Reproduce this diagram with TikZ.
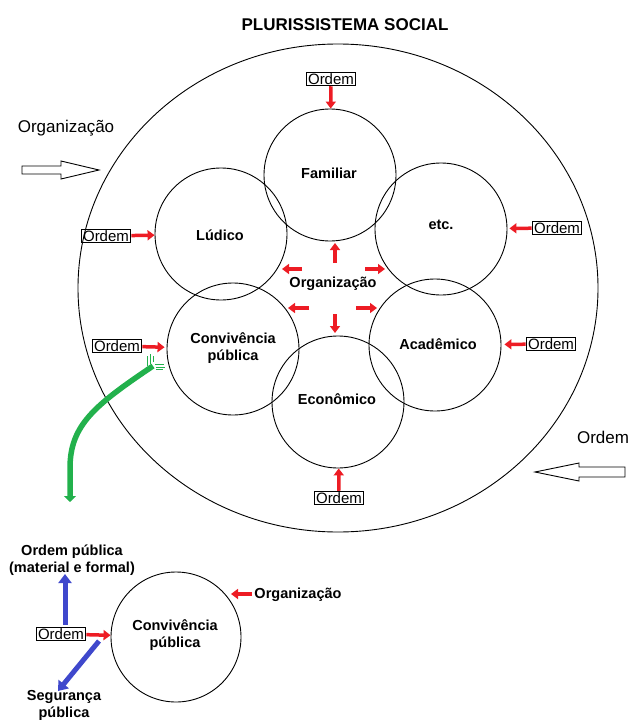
\documentclass[tikz,border=0pt]{standalone}
\usepackage{fontspec}
\setmainfont{Liberation Sans}
\usetikzlibrary{arrows.meta,shapes.geometric}
\definecolor{redc}{RGB}{237,28,36}
\definecolor{bluec}{RGB}{63,72,204}
\definecolor{greenc}{RGB}{34,177,76}
\begin{document}
\begin{tikzpicture}[x=1pt,y=-1pt,
  circ/.style={circle,draw,line width=0.9pt,minimum size=132pt,inner sep=0pt},
  lbl/.style={font=\fontsize{14.5}{17}\selectfont\bfseries,align=center,inner sep=0pt},
  ordbox/.style={draw,line width=0.9pt,inner xsep=2pt,inner ysep=1.2pt,
    font=\fontsize{15}{15}\selectfont,text height=10.8pt,text depth=0.4pt},
  redarr/.style={draw=redc,line width=3.5pt,-{Triangle[length=7pt,width=10pt]}},
  bluearr/.style={draw=bluec,line width=5pt,-{Triangle[length=9pt,width=13pt]}},
  hollow/.style={draw,line width=0.9pt},
]
\useasboundingbox (0,0) rectangle (629,720);

% title
\node[font=\fontsize{17}{17}\selectfont\bfseries] (title) at (345,25) {PLURISSISTEMA SOCIAL};

% big system
\node[ellipse,draw,line width=0.9pt,minimum width=520pt,minimum height=488pt,inner sep=0pt] (plur) at (338,288) {};

% outside labels and hollow arrows
\node[font=\fontsize{17}{17}\selectfont] (orgout) at (66,128) {Organização};
\node[font=\fontsize{17}{17}\selectfont] (ordout) at (603,437) {Ordem};
\draw[hollow] (22,166) -- (61,166) -- (61,161) -- (99,170) -- (61,179) -- (61,174) -- (22,174) -- cycle;
\draw[hollow] (625,467) -- (579,467) -- (579,463) -- (535,472) -- (579,481) -- (579,477) -- (625,477) -- cycle;

% subsystems
\node[circ] (fam) at (330,175) {};
\node[circ] (lud) at (221,234) {};
\node[circ] (etc) at (441,229) {};
\node[circ] (conv) at (233,349) {};
\node[circ] (acad) at (435,345) {};
\node[circ] (econ) at (338,402) {};
\node[lbl] (tfam) at (329,173) {Familiar};
\node[lbl] (tlud) at (220,235) {Lúdico};
\node[lbl] (tetc) at (441,225) {etc.};
\node[lbl] (tconv) at (233,348) {Convivência\\pública};
\node[lbl] (tacad) at (438,344) {Acadêmico};
\node[lbl] (tecon) at (337,399) {Econômico};

% central organization
\node[lbl] (org) at (333,284) {Organização};
\coordinate (u1) at (335,263); \coordinate (u2) at (335,243);
\coordinate (ul1) at (302,269); \coordinate (ul2) at (282,269);
\coordinate (ur1) at (365,269); \coordinate (ur2) at (385,269);
\coordinate (ll1) at (309,308); \coordinate (ll2) at (288,308);
\coordinate (lr1) at (356,308); \coordinate (lr2) at (377,308);
\coordinate (d1) at (335,314); \coordinate (d2) at (335,333);
\draw[redarr] (u1) -- (u2);
\draw[redarr] (ul1) -- (ul2);
\draw[redarr] (ur1) -- (ur2);
\draw[redarr] (ll1) -- (ll2);
\draw[redarr] (lr1) -- (lr2);
\draw[redarr] (d1) -- (d2);

% order boxes
\node[ordbox] (ofam) at (331,79) {Ordem};
\node[ordbox] (olud) at (106,236) {Ordem};
\node[ordbox] (oconv) at (117,346) {Ordem};
\node[ordbox] (oetc) at (557,228) {Ordem};
\node[ordbox] (oacad) at (551,344) {Ordem};
\node[ordbox] (oecon) at (339,498) {Ordem};
\draw[redarr] (ofam) -- (fam);
\draw[redarr] (olud) -- (lud);
\draw[redarr,shorten >=2pt] (oconv) -- (conv);
\draw[redarr,shorten >=2pt] (oetc) -- (etc);
\draw[redarr,shorten >=3pt] (oacad) -- (acad);
\draw[redarr] (oecon) -- (econ);

% green arrow
\coordinate (gs) at (153,366);
\coordinate (ge) at (70,502);
\draw[greenc,line width=5.5pt,-{Triangle[length=6pt,width=12pt]}]
  (gs) .. controls (95,405) and (70,425) .. (70,468) -- (ge);
\draw[greenc,line width=1pt]
  (147,366) -- (147,356)
  (150,364) -- (150,354)
  (153,362) -- (153,356)
  (155,364) -- (164,364)
  (156,367) -- (165,367)
  (156,369) -- (163,369);

% detail of convivencia publica
\node[circ,minimum size=130pt] (cb) at (176,637) {};
\node[lbl] (tcb) at (175,635) {Convivência\\pública};
\node[ordbox] (ob) at (61,634) {Ordem};
\draw[redarr] (ob) -- (cb);
\node[lbl] (op) at (72,560) {Ordem pública\\(material e formal)};
\node[lbl] (seg) at (64,705) {Segurança\\pública};
\node[lbl] (orgb) at (298,595) {Organização};
\coordinate (oa) at (252,594); \coordinate (ob2) at (231,594);
\draw[redarr] (oa) -- (ob2);
\coordinate (bu1) at (65,625); \coordinate (bu2) at (65,574);
\coordinate (bd1) at (99,641); \coordinate (bd2) at (58,691);
\draw[bluearr] (bu1) -- (bu2);
\draw[bluearr] (bd1) -- (bd2);
\end{tikzpicture}
\end{document}
